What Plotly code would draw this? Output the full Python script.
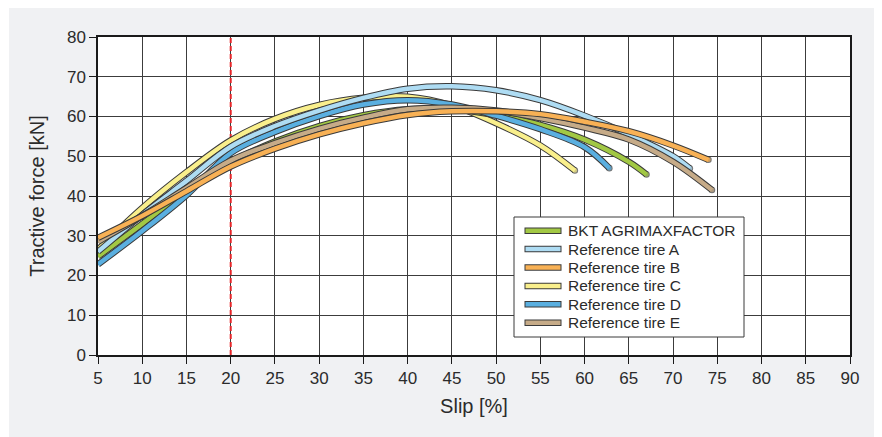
import plotly.graph_objects as go

# ---------------- data ----------------
names = ["BKT AGRIMAXFACTOR", "Reference tire A", "Reference tire B",
         "Reference tire C", "Reference tire D", "Reference tire E"]

x_bkt = [5, 10, 15, 20, 25, 30, 35, 40, 45, 50, 55, 60, 65, 67.0]
y_bkt = [24.8, 33.0, 41.2, 48.5, 53.7, 57.6, 60.3, 61.8, 61.8, 60.3, 57.9, 54.2, 48.6, 45.4]

x_a = [5, 10, 15, 20, 25, 30, 35, 40, 45, 50, 55, 60, 65, 70, 71.9]
y_a = [26.0, 35.3, 43.8, 52.4, 57.6, 61.5, 64.7, 67.0, 67.6, 66.6, 64.1, 60.2, 55.5, 50.0, 46.9]

x_b = [5, 10, 15, 20, 25, 30, 35, 40, 45, 50, 55, 60, 65, 70, 74.0]
y_b = [29.5, 35.0, 41.2, 47.4, 51.9, 55.5, 58.3, 60.4, 61.3, 61.3, 60.6, 58.7, 56.3, 52.7, 49.1]

x_c = [5, 10, 15, 20, 25, 30, 35, 40, 45, 50, 55, 58.9]
y_c = [26.5, 37.0, 46.0, 54.0, 59.4, 62.9, 64.7, 65.0, 62.8, 58.3, 52.7, 46.4]

x_d = [5, 10, 15, 20, 25, 30, 35, 40, 45, 50, 55, 60, 62.8]
y_d = [22.8, 31.2, 40.2, 50.8, 56.1, 60.1, 63.0, 64.1, 63.0, 60.2, 56.8, 52.3, 47.0]

x_e = [5, 10, 15, 20, 25, 30, 35, 40, 45, 50, 55, 60, 65, 70, 74.4]
y_e = [28.5, 35.0, 42.0, 48.9, 53.3, 56.9, 59.7, 61.8, 62.2, 61.5, 59.6, 57.2, 54.2, 48.6, 41.5]

marker_slip = 20  # red dashed reference line

x_ticks = list(range(5, 95, 5))
y_ticks = list(range(0, 90, 10))

# ---------------- styles ----------------
colors = ["#a2c844", "#aedcf3", "#f8b155", "#f9ef8c", "#5aafe0", "#c6ab88"]
series = {
    names[0]: (x_bkt, y_bkt),
    names[1]: (x_a, y_a),
    names[2]: (x_b, y_b),
    names[3]: (x_c, y_c),
    names[4]: (x_d, y_d),
    names[5]: (x_e, y_e),
}
draw_order = [3, 0, 4, 1, 5, 2]
OUT_COL = "#3a3a3a"
OUT_W = 6.5
IN_W = 4.5
FONT = "Liberation Sans, Arial, Helvetica, sans-serif"
TXT = "#2b2b2b"

fig = go.Figure()
for i in draw_order:
    nm = names[i]
    xs, ys = series[nm]
    n = len(xs)
    fig.add_trace(go.Scatter(
        x=xs, y=ys, mode="lines+markers", showlegend=False, hoverinfo="skip",
        line=dict(color=OUT_COL, width=OUT_W, shape="spline", smoothing=1.0),
        marker=dict(size=[0] * (n - 1) + [OUT_W], color=OUT_COL, line=dict(width=0)),
    ))
    fig.add_trace(go.Scatter(
        x=xs, y=ys, mode="lines+markers", name=nm, showlegend=False,
        line=dict(color=colors[i], width=IN_W, shape="spline", smoothing=1.0),
        marker=dict(size=[0] * (n - 1) + [IN_W], color=colors[i], line=dict(width=0)),
    ))

# The page body has an 8px margin, so the figure is placed at (8, 8) in the window.
OFF = 8
W, H = 882 - OFF, 437 - OFF
# plot frame in window pixels: x 98..850, y 37..355
L, R, T, B = 98, 850, 37, 355


def px(xp):
    return (xp - L) / (R - L)


def py(yp):
    return (B - yp) / (B - T)


shapes = [
    dict(type="rect", xref="paper", yref="paper", x0=px(9), x1=px(879), y0=py(445), y1=py(4),
         fillcolor="#f0f1f3", line=dict(width=0), layer="below"),
    dict(type="rect", xref="paper", yref="paper", x0=0, x1=1, y0=0, y1=1,
         fillcolor="white", line=dict(width=0), layer="below"),
    dict(type="line", xref="x", yref="y", x0=marker_slip, x1=marker_slip, y0=0, y1=80,
         line=dict(color="#e8262a", width=2, dash="5px,3px"), layer="between"),
    # legend box
    dict(type="rect", xref="paper", yref="paper", x0=px(514), x1=px(744), y0=py(337), y1=py(217),
         fillcolor="white", line=dict(color="#3a3a3a", width=1), layer="above"),
]
annotations = []
row0, step = 230.7, 18.4
for k, nm in enumerate(names):
    yc = row0 + k * step
    shapes.append(dict(type="line", xref="paper", yref="paper", x0=px(524.5), x1=px(561.5),
                       y0=py(yc), y1=py(yc), line=dict(color=OUT_COL, width=OUT_W), layer="above"))
    shapes.append(dict(type="line", xref="paper", yref="paper", x0=px(525.5), x1=px(560.5),
                       y0=py(yc), y1=py(yc), line=dict(color=colors[k], width=IN_W), layer="above"))
    annotations.append(dict(text=nm, xref="paper", yref="paper", x=px(566), y=py(yc),
                            xanchor="left", yanchor="middle", showarrow=False,
                            font=dict(family=FONT, size=15.5, color=TXT)))

axis_common = dict(
    showgrid=True, gridcolor="#3c3c3c", gridwidth=1,
    showline=True, linecolor="#1a1a1a", linewidth=1.5, mirror=True,
    ticks="outside", ticklen=7, tickcolor="#1a1a1a", tickwidth=1,
    zeroline=False, automargin=False,
    tickfont=dict(family=FONT, size=17, color=TXT),
)

fig.update_layout(
    width=W, height=H, autosize=False,
    margin=dict(l=L - OFF, r=882 - R, t=T - OFF, b=437 - B, pad=0),
    paper_bgcolor="white", plot_bgcolor="white",
    showlegend=False,
    shapes=shapes, annotations=annotations,
    xaxis=dict(range=[5, 90], tickvals=x_ticks, ticktext=[str(v) for v in x_ticks],
               title=dict(text="Slip [%]", font=dict(family=FONT, size=20, color=TXT), standoff=12),
               **axis_common),
    yaxis=dict(range=[0, 80], tickvals=y_ticks, ticktext=[str(v) for v in y_ticks],
               title=dict(text="Tractive force [kN]", font=dict(family=FONT, size=20, color=TXT), standoff=17),
               **axis_common),
)

fig.write_html("out.html")
